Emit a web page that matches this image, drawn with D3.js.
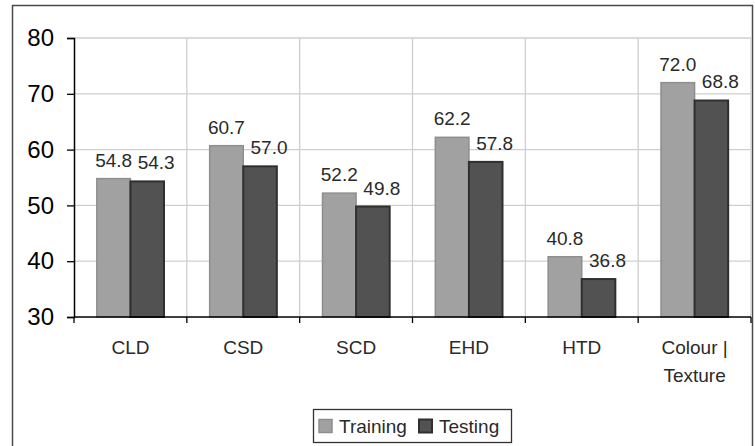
<!DOCTYPE html>
<html>
<head>
<meta charset="utf-8">
<script src="https://cdn.jsdelivr.net/npm/d3@7"></script>
<style>
  html, body { margin: 0; padding: 0; background: #fff; }
  svg { display: block; font-family: Arial, "Liberation Sans", sans-serif; }
</style>
</head>
<body>
<svg id="chart" width="755" height="446"></svg>
<script>
// Recognition rates per descriptor
const categories = ["CLD", "CSD", "SCD", "EHD", "HTD", "Colour | Texture"];
const seriesNames = ["Training", "Testing"];
const training = [54.8, 60.7, 52.2, 62.2, 40.8, 72.0];
const testing  = [54.3, 57.0, 49.8, 57.8, 36.8, 68.8];
const yTicks = [30, 40, 50, 60, 70, 80];

const fills   = { Training: "#a1a1a1", Testing: "#525252" };
const strokes = { Training: "#8e8e8e", Testing: "#2f2f2f" };

const svg = d3.select("#chart");

// outer chart frame
svg.append("path")
  .attr("d", "M12.5,446 L12.5,5.5 L752.5,5.5 L752.5,446")
  .attr("fill", "none").attr("stroke", "#4a4a4a").attr("stroke-width", 1.5);

const plot = { left: 74, right: 751, top: 38, bottom: 317 };

const x0 = d3.scaleBand().domain(categories).range([plot.left, plot.right]).padding(0);
const x1 = d3.scaleBand().domain(seriesNames).range([0, x0.bandwidth()])
  .paddingInner(0).paddingOuter(0.68);
const y = d3.scaleLinear().domain([30, 80]).range([plot.bottom, plot.top]);

// gridlines
const grid = svg.append("g").attr("stroke", "#cfcfcf").attr("stroke-width", 1.3);
grid.selectAll("line.h").data(yTicks.slice(1)).join("line")
  .attr("x1", plot.left).attr("x2", plot.right)
  .attr("y1", d => y(d)).attr("y2", d => y(d));
grid.selectAll("line.v").data(categories).join("line")
  .attr("x1", d => x0(d) + x0.bandwidth()).attr("x2", d => x0(d) + x0.bandwidth())
  .attr("y1", plot.top).attr("y2", plot.bottom);

// bars
const data = categories.map((c, i) => ({ cat: c, vals: [
  { s: "Training", v: training[i] }, { s: "Testing", v: testing[i] }
]}));

const groups = svg.append("g").selectAll("g").data(data).join("g")
  .attr("transform", d => `translate(${x0(d.cat)},0)`);

groups.selectAll("rect").data(d => d.vals).join("rect")
  .attr("x", d => x1(d.s))
  .attr("width", x1.bandwidth())
  .attr("y", d => y(d.v))
  .attr("height", d => y(30) - y(d.v))
  .attr("fill", d => fills[d.s])
  .attr("stroke", d => strokes[d.s])
  .attr("stroke-width", d => d.s === "Testing" ? 2 : 1.5);

// value labels
groups.selectAll("text").data(d => d.vals).join("text")
  .attr("x", d => x1(d.s) + x1.bandwidth() / 2 + (d.s === "Testing" ? 9 : 0))
  .attr("y", d => y(d.v) - 12)
  .attr("text-anchor", "middle")
  .attr("font-size", 19)
  .attr("fill", "#2a2a2a")
  .text(d => d.v.toFixed(1));

// axes
const yAxis = d3.axisLeft(y).tickValues(yTicks).tickSize(7).tickPadding(13);
const yg = svg.append("g").attr("transform", `translate(${plot.left},0)`).call(yAxis);
yg.select(".domain").attr("stroke", "#000").attr("stroke-width", 1.5);
yg.selectAll(".tick line").attr("stroke", "#000").attr("stroke-width", 1.3);
yg.selectAll(".tick text").attr("font-size", 24).attr("fill", "#000")
  .attr("font-family", "Arial, 'Liberation Sans', sans-serif");

const xTickPos = [plot.left].concat(categories.map(c => x0(c) + x0.bandwidth()));
const xg = svg.append("g");
xg.append("line").attr("x1", plot.left).attr("x2", plot.right)
  .attr("y1", plot.bottom).attr("y2", plot.bottom)
  .attr("stroke", "#000").attr("stroke-width", 1.5);
xg.selectAll("line.t").data(xTickPos).join("line")
  .attr("x1", d => d).attr("x2", d => d)
  .attr("y1", plot.bottom).attr("y2", plot.bottom + 6)
  .attr("stroke", "#000").attr("stroke-width", 1.3);

const catLabels = xg.selectAll("text").data(categories).join("text")
  .attr("x", d => x0(d) + x0.bandwidth() / 2)
  .attr("y", 354)
  .attr("text-anchor", "middle")
  .attr("font-size", 19)
  .attr("fill", "#2a2a2a");
catLabels.each(function(d) {
  const parts = d.includes("|") ? [d.slice(0, d.indexOf("|") + 1), d.slice(d.indexOf("|") + 1).trim()] : [d];
  const t = d3.select(this);
  parts.forEach((p, i) => {
    t.append("tspan").attr("x", x0(d) + x0.bandwidth() / 2).attr("dy", i === 0 ? 0 : 28).text(p);
  });
});

// legend
const lg = svg.append("g");
lg.append("rect").attr("x", 313.5).attr("y", 409.5).attr("width", 198).attr("height", 33)
  .attr("fill", "#fff").attr("stroke", "#333").attr("stroke-width", 1.3);
const legendX = [319, 419];
seriesNames.forEach((s, i) => {
  lg.append("rect").attr("x", legendX[i]).attr("y", 419.5).attr("width", 13).attr("height", 13)
    .attr("fill", fills[s]).attr("stroke", strokes[s]).attr("stroke-width", s === "Testing" ? 2 : 1.5);
  lg.append("text").attr("x", legendX[i] + 20).attr("y", 433)
    .attr("font-size", 19).attr("fill", "#2a2a2a").text(s);
});
</script>
</body>
</html>
